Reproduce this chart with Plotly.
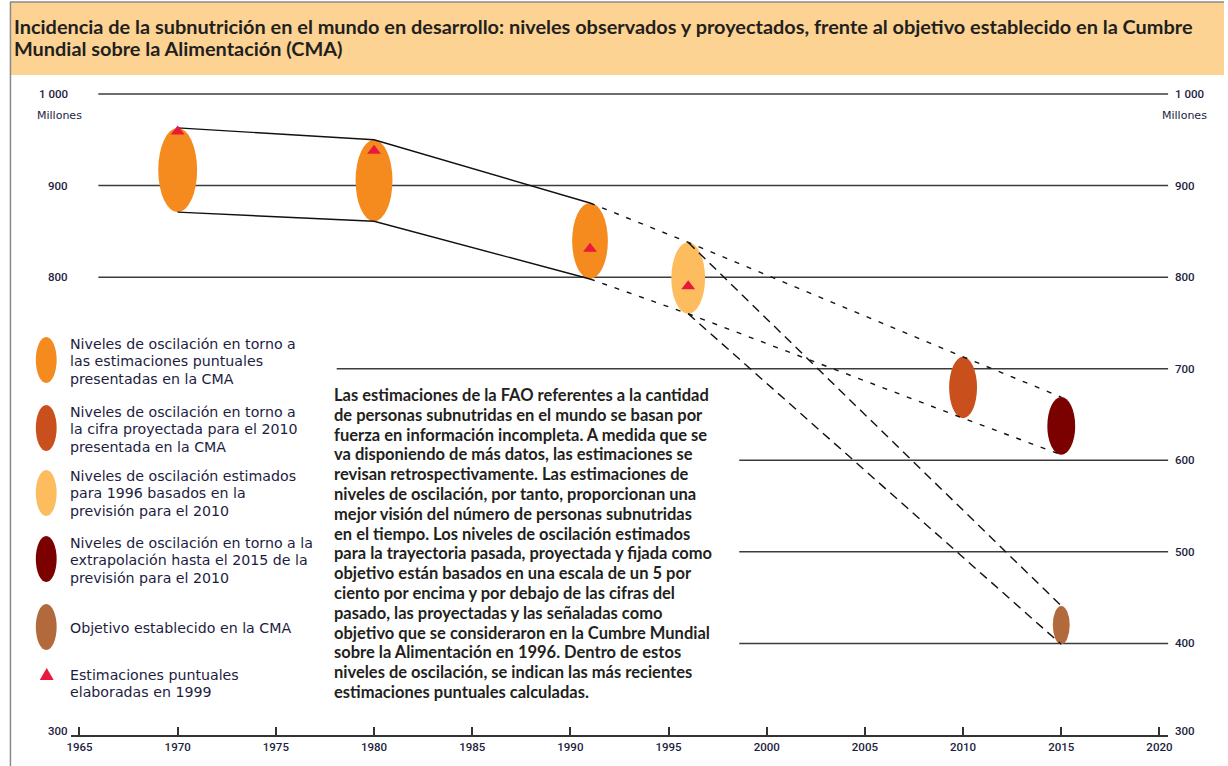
import plotly.graph_objects as go

# ---------------- data ----------------
band_years = [1970, 1980, 1991, 1996, 2010, 2015, 2015]
band_upper = [963, 950, 881, 838, 713, 669, 441]
band_lower = [871, 861, 798, 760, 646, 606, 399]
band_kind = ["cma", "cma", "cma", "prev1996", "proj2010", "extrap2015", "target"]

est_years = [1970, 1980, 1991, 1996]
est_values = [959, 938, 831, 790]

x_ticks = [1965, 1970, 1975, 1980, 1985, 1990, 1995, 2000, 2005, 2010, 2015, 2020]
grid_values = [1000, 900, 800, 700, 600, 500, 400]
left_labels = {1000: "1 000", 900: "900", 800: "800", 300: "300"}
right_labels = {1000: "1 000", 900: "900", 800: "800", 700: "700", 600: "600",
                500: "500", 400: "400", 300: "300"}

# connections between bands (indices into band arrays)
solid_path = [0, 1, 2]
short_dash_path = [2, 3, 4, 5]
long_dash_path = [3, 6]

title_lines = ["Incidencia de la subnutrición en el mundo en desarrollo: niveles observados y proyectados, "
               "frente al objetivo establecido en la Cumbre",
               "Mundial sobre la Alimentación (CMA)"]
legend_items = [
    ("cma", ["Niveles de oscilación en torno a", "las estimaciones puntuales", "presentadas en la CMA"]),
    ("proj2010", ["Niveles de oscilación en torno a", "la cifra proyectada para el 2010", "presentada en la CMA"]),
    ("prev1996", ["Niveles de oscilación estimados", "para 1996 basados en la", "previsión para el 2010"]),
    ("extrap2015", ["Niveles de oscilación en torno a la", "extrapolación hasta el 2015 de la",
                    "previsión para el 2010"]),
    ("target", ["Objetivo establecido en la CMA"]),
]
legend_tri_lines = ["Estimaciones puntuales", "elaboradas en 1999"]
note_lines = [
    "Las estimaciones de la FAO referentes a la cantidad",
    "de personas subnutridas en el mundo se basan por",
    "fuerza en información incompleta. A medida que se",
    "va disponiendo de más datos, las estimaciones se",
    "revisan retrospectivamente. Las estimaciones de",
    "niveles de oscilación, por tanto, proporcionan una",
    "mejor visión del número de personas subnutridas",
    "en el tiempo. Los niveles de oscilación estimados",
    "para la trayectoria pasada, proyectada y fijada como",
    "objetivo están basados en una escala de un 5 por",
    "ciento por encima y por debajo de las cifras del",
    "pasado, las proyectadas y las señaladas como",
    "objetivo que se consideraron en la Cumbre Mundial",
    "sobre la Alimentación en 1996. Dentro de estos",
    "niveles de oscilación, se indican las más recientes",
    "estimaciones puntuales calculadas.",
]

# ---------------- styles ----------------
W, H = 1228, 766
NAVY = "#1d1d3f"
COLORS = {"cma": "#f58b1f", "proj2010": "#c94f1c", "prev1996": "#fdbd5f",
          "extrap2015": "#7b0000", "target": "#b26a3c"}
TRI = "#e8193c"
band_halfwidth = [0.99, 0.94, 0.91, 0.86, 0.71, 0.71, 0.43]
grid_start = {1000: 1965.96, 900: 1965.96, 800: 1965.96, 700: 1978.1,
              600: 1998.6, 500: 1998.6, 400: 1998.6}
GRID_END = 2020.45


def pxx(x):
    return x / W


def pyy(y):
    return 1 - y / H


fig = go.Figure()
shapes = []
annotations = []

# title bar
shapes.append(dict(type="rect", xref="paper", yref="paper", x0=pxx(6), x1=1, y0=pyy(75), y1=pyy(2),
                   fillcolor="#fcd393", line=dict(width=0), layer="below"))
shapes.append(dict(type="line", xref="paper", yref="paper", x0=pxx(6), x1=1, y0=pyy(2), y1=pyy(2),
                   line=dict(color="#8a8a8a", width=1.5), layer="below"))
shapes.append(dict(type="line", xref="paper", yref="paper", x0=pxx(6.5), x1=pxx(6.5), y0=0, y1=pyy(2),
                   line=dict(color="#8a8a8a", width=1.5), layer="below"))
for line, cy in zip(title_lines, [26, 48]):
    annotations.append(dict(xref="paper", yref="paper", x=pxx(8), y=pyy(cy), xanchor="left",
                            yanchor="middle", align="left", showarrow=False, text=line,
                            font=dict(family="Lato", size=19.9, color="#231f20", weight=700)))

# grid lines
for v in grid_values:
    shapes.append(dict(type="line", xref="x", yref="y", x0=grid_start[v], x1=GRID_END, y0=v, y1=v,
                       line=dict(color="#3c3c3c", width=1.5), layer="below"))

# bands (ellipses)
for yr, lo, up, k, hw in zip(band_years, band_lower, band_upper, band_kind, band_halfwidth):
    shapes.append(dict(type="circle", xref="x", yref="y", x0=yr - hw, x1=yr + hw, y0=lo, y1=up,
                       fillcolor=COLORS[k], line=dict(width=0), layer="below"))


# connecting lines
def add_path(idx, dash, width):
    for arr in (band_upper, band_lower):
        fig.add_trace(go.Scatter(x=[band_years[i] for i in idx], y=[arr[i] for i in idx],
                                 mode="lines", line=dict(color="#111111", width=width, dash=dash),
                                 hoverinfo="skip"))


add_path(solid_path, "solid", 1.4)
add_path(short_dash_path, "5px,8px", 1.4)
add_path(long_dash_path, "9px,6px", 1.4)

# point estimates
fig.add_trace(go.Scatter(x=est_years, y=est_values, mode="markers",
                         marker=dict(symbol="triangle-up", size=12, color=TRI, line=dict(width=0)),
                         hoverinfo="skip"))

# y labels
tick_font = dict(family="Roboto", size=11.5, color=NAVY, weight=500)
for v, t in left_labels.items():
    yy = v if v != 300 else 304
    annotations.append(dict(xref="paper", yref="y", x=pxx(66), y=yy, xanchor="right", yanchor="middle",
                            text=t, showarrow=False, font=tick_font))
for v, t in right_labels.items():
    yy = v if v != 300 else 304
    annotations.append(dict(xref="paper", yref="y", x=pxx(1177), y=yy, xanchor="left", yanchor="middle",
                            text=t, showarrow=False, font=tick_font))
mill_font = dict(family="DejaVu Sans", size=11, color=NAVY)
annotations.append(dict(xref="paper", yref="paper", x=pxx(31), y=pyy(116), xanchor="left", yanchor="middle",
                        text="Millones", showarrow=False, font=mill_font))
annotations.append(dict(xref="paper", yref="paper", x=pxx(1213), y=pyy(116), xanchor="right",
                        yanchor="middle", text="Millones", showarrow=False, font=mill_font))

# legend
leg_centers = [360, 428, 493, 559, 627]
leg_first_line = [344, 412, 476, 543, 628]
LEG_STEP = 17.3
leg_font = dict(family="DejaVu Sans", size=14.2, color=NAVY)
for (k, lines), cy, ty in zip(legend_items, leg_centers, leg_first_line):
    shapes.append(dict(type="circle", xref="paper", yref="paper", x0=pxx(32), x1=pxx(53),
                       y0=pyy(cy + 23), y1=pyy(cy - 23), fillcolor=COLORS[k], line=dict(width=0)))
    for j, ln in enumerate(lines):
        annotations.append(dict(xref="paper", yref="paper", x=pxx(64), y=pyy(ty + j * LEG_STEP),
                                xanchor="left", yanchor="middle", align="left", text=ln,
                                showarrow=False, font=leg_font))
tx, tyc = 43, 675
shapes.append(dict(type="path", xref="paper", yref="paper",
                   path=f"M {pxx(tx-7)},{pyy(tyc+5)} L {pxx(tx+7)},{pyy(tyc+5)} L {pxx(tx)},{pyy(tyc-7)} Z",
                   fillcolor=TRI, line=dict(width=0)))
for j, ln in enumerate(legend_tri_lines):
    annotations.append(dict(xref="paper", yref="paper", x=pxx(64), y=pyy(675 + j * LEG_STEP),
                            xanchor="left", yanchor="middle", align="left", text=ln,
                            showarrow=False, font=leg_font))

# note block
for j, ln in enumerate(note_lines):
    annotations.append(dict(xref="paper", yref="paper", x=pxx(330), y=pyy(395 + j * 19.8),
                            xanchor="left", yanchor="middle", align="left", text=ln, showarrow=False,
                            font=dict(family="Lato", size=16.5, color="#231f20", weight=700)))

fig.update_layout(
    width=W, height=H, margin=dict(l=0, r=0, t=0, b=0),
    paper_bgcolor="white", plot_bgcolor="rgba(0,0,0,0)", showlegend=False,
    xaxis=dict(domain=[67 / W, 1172 / W], range=[1964.545, 2020.455], tickvals=x_ticks,
               ticks="inside", ticklen=8, tickwidth=1.5, tickcolor="#333333",
               showline=True, linecolor="#333333", linewidth=1.5, showgrid=False, zeroline=False,
               tickfont=dict(family="Roboto", size=11.5, color=NAVY, weight=500), fixedrange=True),
    yaxis=dict(domain=[1 - 735 / H, 1 - 80 / H], range=[300, 1015.3], visible=False, fixedrange=True),
    shapes=shapes, annotations=annotations,
)

fig.write_html("out.html", config={"displayModeBar": False},
               post_script="document.body.style.margin='0';")
